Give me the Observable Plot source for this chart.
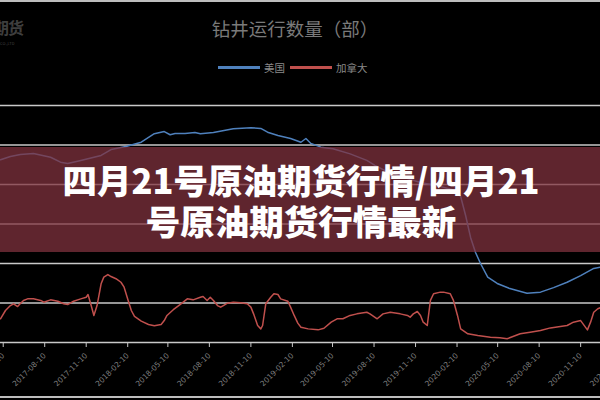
<!DOCTYPE html>
<html>
<head>
<meta charset="utf-8">
<script src="https://cdn.jsdelivr.net/npm/d3@7"></script>
<script src="https://cdn.jsdelivr.net/npm/@observablehq/plot@0.6"></script>
<style>
  html, body { margin: 0; padding: 0; background: #000; }
  #wrap { position: relative; width: 600px; height: 400px; overflow: hidden; background: #000; font-family: "Noto Sans CJK SC", "Noto Sans", sans-serif; }
  #chart { position: absolute; left: 0; top: 0; }
  .title { position: absolute; top: 15px; left: 0; width: 590px; text-align: center; font-size: 18.5px; color: #7a7a7a; }
  .legend { position: absolute; top: 60px; left: 218px; display: flex; align-items: center; font-size: 10.5px; color: #8a8a8a; }
  .sw { display: inline-block; width: 42px; height: 2.5px; margin-right: 4px; }
  .wm { position: absolute; left: -7px; top: 15px; font-size: 16px; font-weight: 700; color: #3e3e3e; letter-spacing: -1px; }
  .wm2 { position: absolute; left: 0px; top: 40px; font-size: 4px; color: #3e3e3e; }
  .banner { position: absolute; left: 0; top: 147px; width: 600px; height: 105px; background: rgba(128,50,62,0.74); }
  .btext { position: absolute; left: 0; top: 159px; width: 602px; text-align: center; color: #fff; font-size: 34.5px; font-weight: 900; line-height: 41px; font-family: "Noto Sans CJK SC", sans-serif; }
  .border { position: absolute; left: 0; width: 600px; height: 2px; background: #bdbdbd; }
</style>
</head>
<body>
<div id="wrap">
  <div id="chart"></div>
  <div class="wm">期货</div>
  <div class="wm2">CO.,LTD</div>
  <div class="title">钻井运行数量（部）</div>
  <div class="legend">
    <span class="sw" style="background:#4F81BD"></span><span>美国</span>
    <span class="sw" style="background:#C0504D;margin-left:5px"></span><span>加拿大</span>
  </div>
  <div class="banner"></div>
  <div class="btext">四月21号原油期货行情/四月21<br>号原油期货行情最新</div>
  <div class="border" style="top:0px"></div>
  <div class="border" style="top:396px"></div>
</div>
<script>
const usDates = ["2017-05-04","2017-05-26","2017-06-17","2017-07-16","2017-08-23","2017-09-14","2017-09-30","2017-10-29","2017-12-13","2018-01-04","2018-02-06","2018-03-12","2018-04-10","2018-05-02","2018-05-15","2018-05-26","2018-06-17","2018-07-09","2018-07-21","2018-08-19","2018-10-02","2018-11-10","2018-12-02","2018-12-17","2019-01-09","2019-02-06","2019-03-01","2019-03-12","2019-03-23","2019-04-14","2019-05-11","2019-06-18","2019-07-25","2019-08-12","2019-09-03","2019-10-07","2019-11-21","2020-01-04","2020-02-07","2020-02-18","2020-02-29","2020-03-11","2020-03-22","2020-04-02","2020-04-18","2020-05-09","2020-06-06","2020-07-14","2020-08-13","2020-09-11","2020-10-11","2020-11-10","2020-12-09","2020-12-24"];
const usValues = [925,942,952,957,938,913,906,922,947,977,992,1014,1057,1068,1052,1058,1058,1063,1057,1063,1082,1087,1084,1065,1048,1033,1014,1033,1008,989,981,955,922,897,871,841,810,790,770,739,643,532,456,400,331,299,273,249,255,278,305,339,375,381];

const caDates = ["2017-05-04","2017-05-15","2017-05-26","2017-06-02","2017-06-11","2017-06-17","2017-06-24","2017-07-03","2017-07-16","2017-08-01","2017-08-08","2017-08-23","2017-09-08","2017-09-21","2017-09-30","2017-10-13","2017-10-29","2017-11-10","2017-11-14","2017-11-21","2017-11-27","2017-12-04","2017-12-13","2017-12-19","2017-12-28","2018-01-04","2018-01-15","2018-01-26","2018-02-02","2018-02-11","2018-02-18","2018-02-25","2018-03-12","2018-03-28","2018-04-10","2018-04-25","2018-05-02","2018-05-08","2018-05-22","2018-06-06","2018-06-22","2018-07-05","2018-07-21","2018-07-27","2018-08-05","2018-08-12","2018-08-19","2018-08-28","2018-09-04","2018-09-10","2018-09-19","2018-10-02","2018-10-18","2018-11-02","2018-11-10","2018-11-16","2018-11-25","2018-12-02","2018-12-06","2018-12-13","2018-12-24","2018-12-31","2019-01-09","2019-01-15","2019-01-31","2019-02-06","2019-02-14","2019-02-22","2019-03-01","2019-03-17","2019-04-08","2019-04-21","2019-05-07","2019-05-20","2019-06-02","2019-06-18","2019-07-03","2019-07-25","2019-08-01","2019-08-17","2019-08-30","2019-09-15","2019-10-07","2019-10-23","2019-10-29","2019-11-05","2019-11-14","2019-11-21","2019-11-27","2019-12-06","2019-12-13","2019-12-20","2020-01-04","2020-01-11","2020-01-26","2020-02-02","2020-02-11","2020-02-18","2020-03-05","2020-03-27","2020-04-24","2020-05-15","2020-05-31","2020-06-13","2020-06-29","2020-07-21","2020-08-13","2020-09-04","2020-09-26","2020-10-11","2020-10-25","2020-11-10","2020-11-25","2020-12-02","2020-12-09","2020-12-18","2020-12-24"];
const caValues = [120,162,187,196,182,197,213,221,221,213,204,216,209,196,192,209,221,229,243,187,137,187,297,331,344,334,323,305,280,213,162,132,108,91,85,91,111,137,166,192,221,216,229,233,213,229,213,187,179,187,199,204,201,196,179,145,86,69,86,196,229,247,243,221,209,179,137,98,77,69,64,72,103,120,120,137,145,153,145,120,145,153,145,137,128,145,157,137,103,86,213,247,255,255,247,213,137,69,44,35,27,24,19,30,44,52,61,74,81,86,103,111,64,103,153,171,176];

const xTickDates = ["2017-05-10","2017-08-10","2017-11-10","2018-02-10","2018-05-10","2018-08-10","2018-11-10","2019-02-10","2019-05-10","2019-08-10","2019-11-10","2020-02-10","2020-05-10","2020-08-10","2020-11-10","2021-02-10"];
const yTicks = [0, 200, 400, 600, 800, 1000, 1200];

const parse = d3.utcParse("%Y-%m-%d");
const us = usDates.map((d, i) => ({date: parse(d), value: usValues[i]}));
const ca = caDates.map((d, i) => ({date: parse(d), value: caValues[i]}));

// visible window 600px spans 2017-05-04 .. 2020-12-24; svg is 640 wide (clipped by wrapper)
const start = parse("2017-05-04"), end = parse("2020-12-24");
const domainEnd = new Date(+start + (end - start) * 640 / 600);

const chart = Plot.plot({
  width: 640,
  height: 400,
  marginLeft: 0,
  marginRight: 0,
  marginTop: 105,
  marginBottom: 58,
  style: {background: "transparent", color: "#8a8a8a", fontFamily: "DejaVu Sans, sans-serif", maxWidth: "none"},
  x: {type: "utc", domain: [start, domainEnd]},
  y: {domain: [0, 1200], axis: null},
  marks: [
    Plot.ruleY(yTicks, {stroke: "#c9c9c9", strokeWidth: 1.4}),
    Plot.axisX({
      ticks: xTickDates.map(parse),
      tickFormat: d3.utcFormat("%Y-%m-%d"),
      tickRotate: -45,
      tickSize: 5,
      stroke: "#c9c9c9",
      fill: "#7e7e7e",
      fontSize: 7.5,
      label: null
    }),
    Plot.line(us, {x: "date", y: "value", stroke: "#4F81BD", strokeWidth: 1.5}),
    Plot.line(ca, {x: "date", y: "value", stroke: "#C0504D", strokeWidth: 1.5})
  ]
});
chart.style.maxWidth = "none";
document.getElementById("chart").appendChild(chart);
</script>
</body>
</html>
